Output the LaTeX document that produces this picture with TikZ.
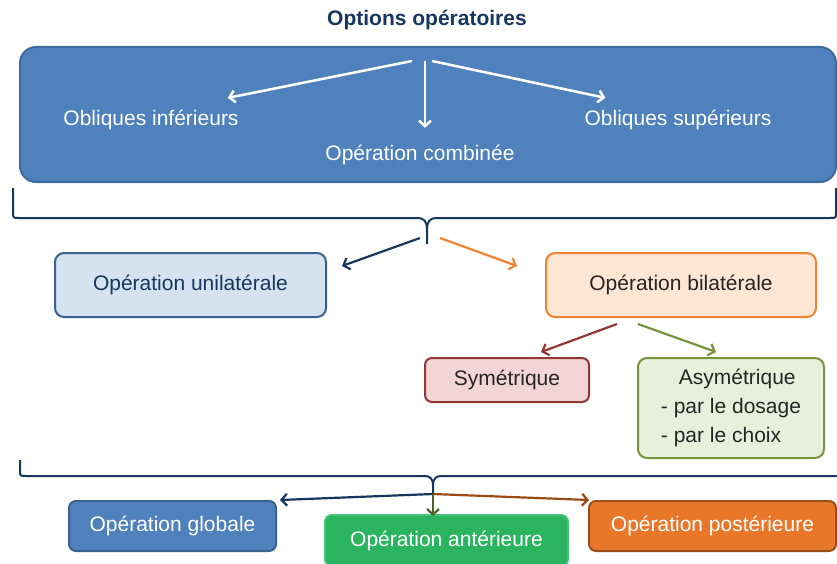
\documentclass[tikz,border=0pt]{standalone}
\usepackage{fontspec}
\setmainfont{Liberation Sans}
\usetikzlibrary{arrows.meta,calc,positioning}
\definecolor{navy}{HTML}{17375E}
\definecolor{optblue}{HTML}{4F81BD}
\definecolor{optline}{HTML}{3E6A9C}
\definecolor{unifill}{HTML}{D5E2EF}
\definecolor{uniline}{HTML}{3A6291}
\definecolor{bilfill}{HTML}{FDE6D3}
\definecolor{billine}{HTML}{F0832F}
\definecolor{symfill}{HTML}{F2D5D4}
\definecolor{symline}{HTML}{943634}
\definecolor{asymfill}{HTML}{E8EFDC}
\definecolor{asymline}{HTML}{77933C}
\definecolor{antfill}{HTML}{2AB45F}
\definecolor{antline}{HTML}{47C278}
\definecolor{postfill}{HTML}{E8772A}
\definecolor{postline}{HTML}{97501A}
\definecolor{darkgreen}{HTML}{4F6228}
\definecolor{brown}{HTML}{9A4A14}
\definecolor{darktext}{HTML}{262626}

\begin{document}
\begin{tikzpicture}[x=1pt, y=-1pt, >={Straight Barb[length=5.5pt,width=12pt]},
  box/.style={draw, line width=2pt, rounded corners=9pt, align=center, inner sep=0pt,
    font=\fontsize{21}{29}\selectfont},
  txt/.style={inner sep=3pt, font=\fontsize{21}{29}\selectfont},
  arr/.style={->, line width=2.2pt}]
  \useasboundingbox (0,0) rectangle (837,564);
  % top level
  \node[font=\fontsize{21}{25}\selectfont\bfseries, text=navy] (title) at (427,20) {Options opératoires};
  \node[box, fill=optblue, draw=optline, rounded corners=16pt, minimum width=816, minimum height=135] (opt) at (428,114.5) {};
  \node[txt, text=white] (oi) at (151,120) {Obliques inférieurs};
  \node[txt, text=white] (oc) at (420,155) {Opération combinée};
  \node[txt, text=white] (os) at (678,120) {Obliques supérieurs};
  \coordinate (fork) at (425,61);
  \draw[arr, white, line width=2.5pt] ([xshift=-13pt]fork) -- ([xshift=-14pt,yshift=9pt]oi.north east);
  \draw[arr, white, line width=2.5pt, shorten >=14pt] (fork) -- (fork |- oc.north);
  \draw[arr, white, line width=2.5pt] ([xshift=7pt]fork) -- ([xshift=24pt,yshift=9pt]os.north west);
  % first brace
  \coordinate (b1) at (427,244);
  \draw[navy, line width=2pt] (13,188) -- (13,212) .. controls (13,218) .. (19,218) -- (418,218)
    .. controls (424,218) and (427,222) .. (427,229) -- (b1);
  \draw[navy, line width=2pt] (836,188) -- (836,212) .. controls (836,218) .. (830,218) -- (436,218)
    .. controls (430,218) and (427,222) .. (427,229);
  % laterality
  \node[box, fill=unifill, draw=uniline, text=navy, minimum width=271, minimum height=64] (uni) at (190.5,285) {Opération unilatérale};
  \node[box, fill=bilfill, draw=billine, text=darktext, minimum width=270, minimum height=64] (bil) at (681,285) {Opération bilatérale};
  \draw[arr, navy] ([xshift=-7pt,yshift=6pt]b1) -- ([xshift=15pt,yshift=-14pt]uni.north east);
  \draw[arr, billine] ([xshift=13pt,yshift=6pt]b1) -- ([xshift=-28pt,yshift=-14pt]bil.north west);
  \node[box, fill=symfill, draw=symline, text=darktext, rounded corners=7pt, minimum width=164, minimum height=44] (sym) at (507,380) {Symétrique};
  \node[box, fill=asymfill, draw=asymline, text=darktext, align=left, minimum width=186, minimum height=100] (asym) at (731,408)
    {\hspace*{18pt}Asymétrique\\- par le dosage\\- par le choix};
  \draw[arr, symline] ([xshift=-64pt,yshift=-6pt]bil.south) -- ([xshift=34pt,yshift=5pt]sym.north);
  \draw[arr, asymline] ([xshift=-43pt,yshift=-6pt]bil.south) -- ([xshift=-15pt,yshift=5pt]asym.north);
  % second brace
  \coordinate (b2) at (433,494);
  \draw[navy, line width=2pt] (20,460) -- (20,470) .. controls (20,476) .. (26,476) -- (425,476)
    .. controls (430,476) and (433,479) .. (433,485) -- (b2);
  \draw[navy, line width=2pt] (840,476) -- (441,476) .. controls (436,476) and (433,479) .. (433,485);
  % approach
  \node[box, fill=optblue, draw=uniline, text=white, rounded corners=7pt, minimum width=207, minimum height=50] (glob) at (172.5,526) {Opération globale};
  \node[box, fill=antfill, draw=antline, text=white, rounded corners=7pt, minimum width=243, minimum height=51] (ant) at (446.5,540.5) {Opération antérieure};
  \node[box, fill=postfill, draw=postline, text=white, rounded corners=7pt, minimum width=247, minimum height=50] (post) at (712.5,526) {Opération postérieure};
  \draw[arr, navy] (b2) -- ([xshift=3pt]glob.north east);
  \draw[arr, darkgreen] (b2) -- ([yshift=-2pt]b2 |- ant.north);
  \draw[arr, brown] (b2) -- ([xshift=1pt]post.north west);
\end{tikzpicture}
\end{document}
